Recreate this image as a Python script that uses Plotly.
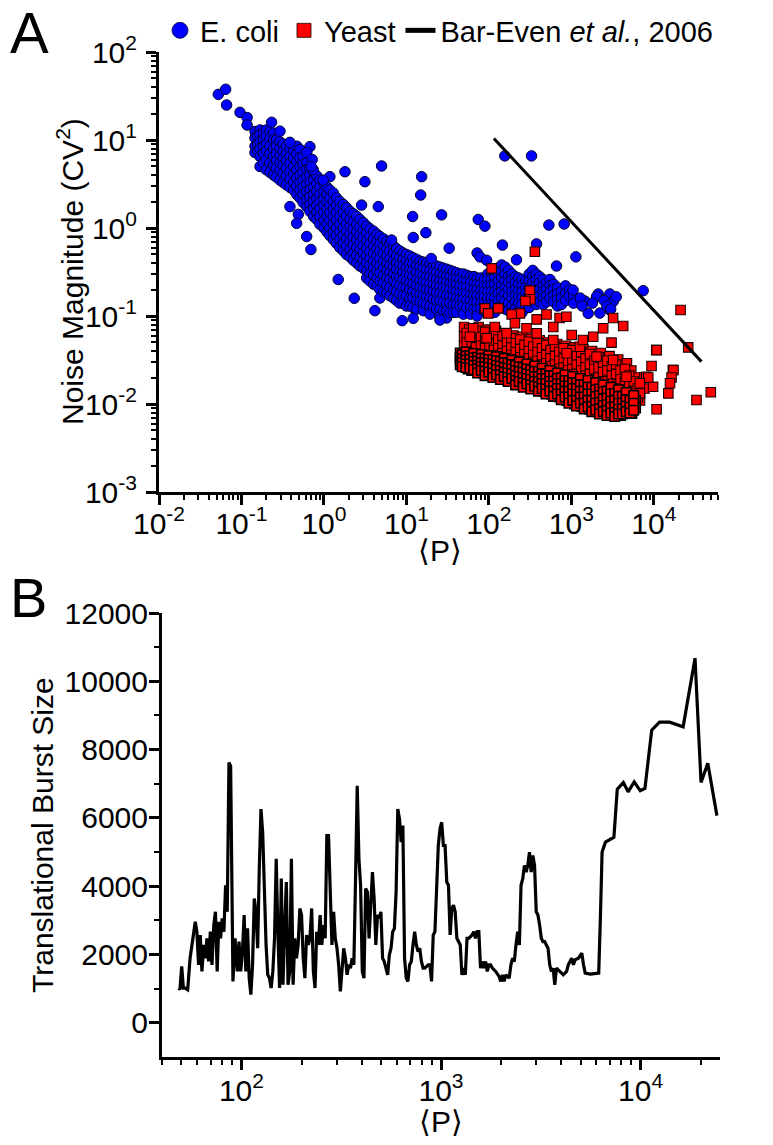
import math
import plotly.graph_objects as go

# ---------------- Panel A data ----------------
ecoli_outlier_x = [0.0524, 0.0643, 0.066, 0.096, 0.117, 0.117, 0.232, 0.293, 0.387,
                   1.80, 3.14, 5.0, 2.86, 4.56, 0.387, 0.489, 0.467, 0.617, 0.695,
                   1.49, 2.33, 4.15, 8.9, 15.3, 14.9, 11.9, 26.7, 12.1, 17.2, 74.3,
                   89.5, 156, 329, 534, 818, 146, 378, 33, 72, 78, 94, 216, 661, 1135,
                   7430, 1458, 2115, 2930, 3210, 1600, 2215, 2930, 1050, 2020, 6.6,
                   20, 0.676, 0.62, 0.72, 0.74, 0.70, 1.18, 0.98, 12.1, 25.5,
                   1280, 1350, 1800, 2500, 2700, 3500, 3000]
ecoli_outlier_y = [33, 37.7, 25, 20.6, 18, 14.8, 15.9, 12.6, 9.4,
                   4.36, 3.36, 5.07, 1.82, 1.75, 1.75, 1.43, 1.13, 0.80, 0.57,
                   0.26, 0.159, 0.115, 0.0885, 3.83, 2.37, 1.35, 1.41, 0.78, 0.885, 1.25,
                   1.05, 6.6, 6.6, 1.08, 1.11, 0.64, 0.66, 0.59, 0.52, 0.47, 0.43, 0.435, 0.37, 0.47,
                   0.194, 0.148, 0.178, 0.178, 0.146, 0.107, 0.108, 0.117, 0.197, 0.166, 0.73,
                   0.45, 8.4, 7.2, 6.0, 4.6, 5.0, 3.83, 3.5, 0.094, 0.09,
                   0.16, 0.13, 0.14, 0.15, 0.13, 0.165, 0.12]

ecoli_band_cols = [
    (0.146, [12.5, 10.5, 8.5, 7.2]),
    (0.157, [11, 9, 7.5]),
    (0.168, [13, 11.5, 9.5, 8, 6.5, 5]),
    (0.185, [12, 10, 8.5, 7, 5.5]),
    (0.20, [13, 11, 9, 7.5, 6, 4.6]),
    (0.221, [12.5, 10.5, 8.5, 7, 5.5, 4.3]),
    (0.245, [12, 10, 8, 6.5, 5.2, 4.0]),
    (0.265, [10, 8.5, 7, 5.8, 4.8, 3.8]),
    (0.293, [9.5, 8, 6.6, 5.5, 4.5, 3.5]),
    (0.32, [9, 7.5, 6.2, 5.2, 4.2, 3.3]),
    (0.35, [8.5, 7, 5.8, 4.8, 3.9, 3.1]),
    (0.387, [8, 6.5, 5.4, 4.4, 3.6, 2.9]),
    (0.43, [7.5, 6.2, 5, 4.1, 3.3, 2.7]),
    (0.47, [8.5, 7, 5.6, 4.5, 3.7, 3.0, 2.4]),
    (0.512, [7.8, 6.3, 5.0, 4.0, 3.3, 2.7, 2.2]),
    (0.56, [6.5, 5.3, 4.3, 3.5, 2.9, 2.4, 1.95]),
    (0.62, [5.5, 4.6, 3.8, 3.1, 2.6, 2.1, 1.75]),
    (0.676, [4.8, 4.0, 3.3, 2.7, 2.25, 1.85, 1.55]),
    (0.75, [4.3, 3.5, 2.9, 2.4, 2.0, 1.65, 1.35]),
    (0.82, [3.9, 3.2, 2.6, 2.15, 1.8, 1.5, 1.25]),
    (0.895, [3.5, 2.9, 2.4, 2.0, 1.65, 1.35, 1.1]),
    (1.0, [3.2, 2.6, 2.15, 1.8, 1.5, 1.22, 1.0]),
    (1.09, [2.9, 2.4, 2.0, 1.65, 1.35, 1.1, 0.9]),
    (1.18, [2.7, 2.2, 1.8, 1.5, 1.22, 1.0, 0.82]),
    (1.3, [2.5, 2.0, 1.65, 1.35, 1.1, 0.9, 0.74]),
    (1.42, [2.2, 1.8, 1.5, 1.22, 1.0, 0.82, 0.67]),
    (1.56, [2.0, 1.65, 1.35, 1.1, 0.9, 0.74, 0.6]),
    (1.72, [1.85, 1.5, 1.22, 1.0, 0.82, 0.67, 0.55]),
    (1.88, [1.7, 1.38, 1.12, 0.92, 0.75, 0.62, 0.5]),
    (2.07, [1.55, 1.27, 1.04, 0.85, 0.7, 0.57, 0.47]),
    (2.27, [1.45, 1.18, 0.96, 0.78, 0.64, 0.52, 0.43]),
    (2.5, [1.35, 1.1, 0.9, 0.73, 0.6, 0.49, 0.4]),
    (2.73, [1.25, 1.02, 0.83, 0.68, 0.56, 0.46, 0.37]),
    (3.0, [1.15, 0.94, 0.77, 0.63, 0.52, 0.43, 0.35]),
    (3.3, [1.05, 0.87, 0.71, 0.58, 0.48, 0.4, 0.32, 0.27]),
    (3.61, [0.98, 0.8, 0.66, 0.54, 0.45, 0.37, 0.3, 0.25]),
    (4.0, [0.92, 0.75, 0.62, 0.51, 0.42, 0.35, 0.29, 0.23]),
    (4.4, [0.85, 0.7, 0.58, 0.48, 0.4, 0.33, 0.27, 0.22]),
    (4.77, [0.8, 0.66, 0.55, 0.45, 0.37, 0.31, 0.25, 0.2, 0.16]),
    (5.3, [0.75, 0.62, 0.51, 0.42, 0.35, 0.29, 0.24, 0.19]),
    (5.8, [0.7, 0.58, 0.48, 0.4, 0.33, 0.27, 0.22, 0.18]),
    (6.3, [0.66, 0.55, 0.45, 0.37, 0.31, 0.26, 0.21, 0.17]),
    (7.0, [0.62, 0.52, 0.43, 0.36, 0.3, 0.25, 0.2, 0.16]),
    (7.6, [0.58, 0.48, 0.4, 0.34, 0.28, 0.23, 0.19, 0.15]),
    (8.3, [0.55, 0.46, 0.38, 0.32, 0.27, 0.22, 0.18, 0.14]),
    (9.1, [0.52, 0.44, 0.37, 0.31, 0.26, 0.21, 0.17, 0.14]),
    (10, [0.5, 0.42, 0.35, 0.3, 0.25, 0.21, 0.17, 0.13]),
    (11, [0.48, 0.4, 0.34, 0.29, 0.24, 0.2, 0.16, 0.13]),
    (12, [0.46, 0.39, 0.33, 0.28, 0.23, 0.19, 0.16, 0.125]),
    (13.3, [0.44, 0.37, 0.31, 0.26, 0.22, 0.18, 0.15, 0.12]),
    (14.6, [0.42, 0.36, 0.3, 0.25, 0.21, 0.175, 0.145]),
    (16, [0.41, 0.35, 0.29, 0.245, 0.205, 0.17, 0.14, 0.115]),
    (17.6, [0.4, 0.34, 0.28, 0.24, 0.2, 0.165, 0.135]),
    (19.3, [0.39, 0.33, 0.275, 0.23, 0.195, 0.16, 0.13, 0.105]),
    (21.2, [0.38, 0.32, 0.27, 0.225, 0.19, 0.155, 0.125]),
    (23.2, [0.37, 0.31, 0.26, 0.22, 0.185, 0.15, 0.12]),
    (25.5, [0.36, 0.3, 0.255, 0.215, 0.18, 0.15, 0.12, 0.098]),
    (28, [0.35, 0.29, 0.25, 0.21, 0.175, 0.145, 0.115]),
    (30.7, [0.34, 0.285, 0.24, 0.205, 0.17, 0.14, 0.115, 0.095]),
    (33.7, [0.33, 0.28, 0.235, 0.2, 0.165, 0.14, 0.11]),
    (37, [0.32, 0.27, 0.23, 0.195, 0.165, 0.135, 0.11]),
    (40.6, [0.31, 0.265, 0.225, 0.19, 0.16, 0.135, 0.11]),
    (44.5, [0.3, 0.26, 0.22, 0.185, 0.155, 0.13]),
    (49, [0.3, 0.25, 0.215, 0.18, 0.155, 0.13, 0.105]),
    (54, [0.29, 0.245, 0.21, 0.18, 0.15, 0.125]),
    (60, [0.28, 0.24, 0.205, 0.175, 0.15, 0.125, 0.105]),
    (66, [0.28, 0.235, 0.2, 0.17, 0.145, 0.12]),
    (72, [0.27, 0.23, 0.2, 0.17, 0.145, 0.12, 0.1]),
    (80, [0.27, 0.23, 0.195, 0.165, 0.14, 0.12]),
    (88, [0.26, 0.22, 0.19, 0.165, 0.14, 0.115]),
    (97, [0.3, 0.26, 0.22, 0.19, 0.16, 0.135, 0.115]),
    (107, [0.26, 0.22, 0.19, 0.16, 0.135, 0.11]),
    (118, [0.32, 0.27, 0.23, 0.19, 0.16, 0.135, 0.11]),
    (130, [0.35, 0.3, 0.25, 0.21, 0.18, 0.15, 0.125]),
    (143, [0.38, 0.32, 0.27, 0.22, 0.19, 0.16, 0.13]),
    (157, [0.36, 0.3, 0.25, 0.21, 0.18, 0.15, 0.12]),
    (173, [0.33, 0.28, 0.24, 0.2, 0.17, 0.14, 0.115]),
    (190, [0.3, 0.26, 0.22, 0.19, 0.16, 0.13, 0.11]),
    (210, [0.28, 0.24, 0.2, 0.17, 0.145, 0.12, 0.1]),
    (230, [0.27, 0.23, 0.195, 0.165, 0.14, 0.115]),
    (253, [0.26, 0.22, 0.19, 0.16, 0.135, 0.11]),
    (280, [0.25, 0.21, 0.18, 0.155, 0.13]),
    (308, [0.3, 0.25, 0.21, 0.18, 0.15, 0.125]),
    (340, [0.33, 0.28, 0.24, 0.2, 0.17, 0.145]),
    (375, [0.3, 0.26, 0.22, 0.19, 0.16, 0.135]),
    (413, [0.28, 0.24, 0.2, 0.17, 0.145]),
    (455, [0.26, 0.22, 0.19, 0.16, 0.135]),
    (500, [0.24, 0.2, 0.17, 0.145]),
    (550, [0.26, 0.22, 0.19, 0.16]),
    (610, [0.23, 0.2, 0.17, 0.145]),
    (680, [0.21, 0.18, 0.155, 0.13]),
    (760, [0.19, 0.16, 0.135]),
    (850, [0.22, 0.18, 0.15]),
    (950, [0.2, 0.17]),
    (1060, [0.17, 0.14]),
]

yeast_dense_cols = [
    (45, [0.038, 0.034, 0.031, 0.028]),
    (50, [0.037, 0.033, 0.030, 0.027]),
    (56, [0.038, 0.034, 0.030, 0.027, 0.025]),
    (62, [0.037, 0.033, 0.030, 0.027, 0.024]),
    (69, [0.036, 0.032, 0.029, 0.026, 0.024]),
    (77, [0.036, 0.032, 0.029, 0.026, 0.023]),
    (85, [0.035, 0.031, 0.028, 0.025, 0.0225]),
    (95, [0.034, 0.031, 0.028, 0.025, 0.022]),
    (106, [0.034, 0.030, 0.027, 0.024, 0.0215]),
    (118, [0.033, 0.030, 0.026, 0.023, 0.021]),
    (131, [0.032, 0.029, 0.026, 0.023, 0.020]),
    (146, [0.032, 0.028, 0.025, 0.022, 0.0195]),
    (162, [0.031, 0.027, 0.024, 0.021, 0.019]),
    (180, [0.030, 0.027, 0.024, 0.021, 0.0185]),
    (200, [0.030, 0.026, 0.023, 0.020, 0.018]),
    (222, [0.029, 0.025, 0.022, 0.0195, 0.0175]),
    (247, [0.028, 0.025, 0.022, 0.019, 0.017]),
    (275, [0.027, 0.024, 0.021, 0.0185, 0.0165]),
    (305, [0.027, 0.023, 0.020, 0.018, 0.016]),
    (340, [0.026, 0.023, 0.020, 0.0175, 0.0155]),
    (378, [0.025, 0.022, 0.019, 0.017, 0.015]),
    (420, [0.025, 0.021, 0.0185, 0.0165, 0.0145]),
    (467, [0.024, 0.021, 0.018, 0.016, 0.014]),
    (520, [0.023, 0.020, 0.0175, 0.0155, 0.0135]),
    (578, [0.023, 0.0195, 0.017, 0.015, 0.013]),
    (643, [0.022, 0.019, 0.0165, 0.0145, 0.0125]),
    (715, [0.021, 0.018, 0.016, 0.014, 0.012]),
    (795, [0.021, 0.018, 0.0155, 0.0135, 0.0115]),
    (885, [0.020, 0.017, 0.015, 0.013, 0.011]),
    (985, [0.020, 0.017, 0.0145, 0.0125, 0.0105]),
    (1095, [0.019, 0.016, 0.014, 0.012, 0.010]),
    (1220, [0.019, 0.016, 0.0135, 0.0115, 0.0098]),
    (1355, [0.018, 0.0155, 0.013, 0.011, 0.0094]),
    (1510, [0.018, 0.015, 0.0125, 0.0105, 0.009]),
    (1680, [0.017, 0.0145, 0.012, 0.0102, 0.0087]),
    (1870, [0.017, 0.014, 0.0118, 0.0099, 0.0084]),
    (2080, [0.016, 0.0135, 0.0115, 0.0096, 0.0082]),
    (2310, [0.016, 0.013, 0.011, 0.0093, 0.008]),
    (2570, [0.015, 0.0128, 0.0107, 0.009, 0.0078]),
    (2860, [0.015, 0.0125, 0.0104, 0.0088]),
    (3180, [0.0145, 0.012, 0.010, 0.0086, 0.0076]),
    (3540, [0.014, 0.0118, 0.0098, 0.0084, 0.0075]),
    (3940, [0.0135, 0.0115, 0.0096, 0.0082, 0.0074]),
    (4380, [0.013, 0.011, 0.0094, 0.008]),
    (4870, [0.0125, 0.0105, 0.009, 0.0078]),
    (5420, [0.012, 0.0095, 0.0078]),
    (6000, [0.011, 0.009]),
]

yeast_dense_cols_b = [
    (47.5, [0.036, 0.0325, 0.0295, 0.0265]),
    (53, [0.039, 0.035, 0.0315, 0.0285, 0.026]),
    (59, [0.0355, 0.032, 0.0285, 0.0255]),
    (65.5, [0.0375, 0.0335, 0.0305, 0.0275, 0.0245]),
    (73, [0.034, 0.0305, 0.0275, 0.025, 0.0225]),
    (81, [0.0365, 0.033, 0.0295, 0.0265, 0.024]),
    (90, [0.033, 0.0295, 0.0265, 0.0235, 0.021]),
    (100, [0.0355, 0.032, 0.029, 0.026, 0.023]),
    (112, [0.032, 0.0285, 0.0255, 0.0225, 0.02]),
    (124, [0.0345, 0.031, 0.0275, 0.0245, 0.0215]),
    (138, [0.0305, 0.027, 0.024, 0.0215, 0.019]),
    (154, [0.033, 0.0295, 0.026, 0.023, 0.0205]),
    (171, [0.029, 0.0255, 0.0225, 0.02, 0.018]),
    (190, [0.0315, 0.028, 0.025, 0.022, 0.0195]),
    (211, [0.0275, 0.024, 0.021, 0.0185, 0.0165]),
    (234, [0.03, 0.0265, 0.0235, 0.0205, 0.018]),
    (261, [0.026, 0.023, 0.02, 0.0175, 0.0155]),
    (290, [0.0285, 0.025, 0.022, 0.0195, 0.017]),
    (322, [0.0245, 0.0215, 0.019, 0.0165, 0.0148]),
    (359, [0.027, 0.0235, 0.0205, 0.018, 0.016]),
    (399, [0.0235, 0.0205, 0.018, 0.0157, 0.014]),
    (443, [0.0255, 0.022, 0.0195, 0.017, 0.015]),
    (493, [0.022, 0.0195, 0.017, 0.0148, 0.013]),
    (549, [0.024, 0.021, 0.018, 0.016, 0.014]),
    (610, [0.021, 0.0182, 0.016, 0.014, 0.0122]),
    (679, [0.0225, 0.0195, 0.017, 0.015, 0.013]),
    (755, [0.0198, 0.017, 0.015, 0.013, 0.0112]),
    (840, [0.0215, 0.0185, 0.016, 0.014, 0.012]),
    (935, [0.0185, 0.016, 0.014, 0.012, 0.0102]),
    (1040, [0.0205, 0.0175, 0.015, 0.013, 0.011]),
    (1157, [0.0175, 0.015, 0.0128, 0.011, 0.0095]),
    (1287, [0.0195, 0.0165, 0.014, 0.012, 0.0102]),
    (1432, [0.0165, 0.014, 0.012, 0.0102, 0.0088]),
    (1594, [0.0185, 0.0155, 0.013, 0.011, 0.0093]),
    (1773, [0.0155, 0.013, 0.011, 0.0094, 0.0082]),
    (1972, [0.0175, 0.0145, 0.0122, 0.0102, 0.0086]),
    (2194, [0.0148, 0.0124, 0.0104, 0.0088, 0.0077]),
    (2440, [0.0165, 0.0138, 0.0115, 0.0096, 0.0082]),
    (2715, [0.014, 0.0117, 0.0098, 0.0084, 0.0074]),
    (3020, [0.0155, 0.013, 0.0108, 0.0092, 0.0079]),
    (3360, [0.0132, 0.011, 0.0093, 0.008, 0.0072]),
    (3740, [0.0145, 0.0122, 0.0102, 0.0087, 0.0077]),
    (4160, [0.0122, 0.0102, 0.0088, 0.0077]),
    (4620, [0.0135, 0.0112, 0.0095, 0.0082]),
    (5140, [0.011, 0.0092, 0.0079]),
    (5700, [0.0125, 0.0102, 0.0085]),
]

yeast_upper_cols = [
    (50, [0.075, 0.058, 0.046]),
    (58, [0.07, 0.052, 0.042]),
    (66, [0.064, 0.048]),
    (75, [0.075, 0.055, 0.043]),
    (85, [0.062, 0.047, 0.04]),
    (96, [0.07, 0.052, 0.041]),
    (108, [0.06, 0.046, 0.038]),
    (122, [0.068, 0.05, 0.04]),
    (138, [0.058, 0.045, 0.037]),
    (156, [0.064, 0.05, 0.039, 0.034]),
    (176, [0.055, 0.043, 0.035]),
    (199, [0.06, 0.047, 0.038, 0.032]),
    (225, [0.052, 0.041, 0.033]),
    (254, [0.058, 0.045, 0.036, 0.031]),
    (287, [0.05, 0.04, 0.032]),
    (324, [0.055, 0.043, 0.035, 0.029]),
    (366, [0.048, 0.038, 0.031]),
    (413, [0.053, 0.042, 0.034, 0.028]),
    (467, [0.046, 0.037, 0.03, 0.026]),
    (527, [0.05, 0.04, 0.033, 0.027]),
    (595, [0.044, 0.035, 0.029, 0.025]),
    (672, [0.048, 0.038, 0.031, 0.026]),
    (760, [0.042, 0.034, 0.028, 0.024]),
    (858, [0.046, 0.036, 0.029, 0.024]),
    (970, [0.04, 0.032, 0.027, 0.023]),
    (1095, [0.044, 0.035, 0.028, 0.023]),
    (1237, [0.038, 0.031, 0.025, 0.021]),
    (1397, [0.042, 0.033, 0.027, 0.022]),
    (1578, [0.036, 0.029, 0.024, 0.02]),
    (1782, [0.04, 0.031, 0.025, 0.02]),
    (2013, [0.034, 0.027, 0.022, 0.018]),
    (2273, [0.038, 0.029, 0.023, 0.019]),
    (2568, [0.032, 0.025, 0.02, 0.017]),
    (2900, [0.035, 0.027, 0.021, 0.017]),
    (3275, [0.03, 0.023, 0.019, 0.016]),
    (3700, [0.032, 0.025, 0.019, 0.015]),
    (4180, [0.027, 0.021, 0.017, 0.014]),
    (4720, [0.029, 0.022, 0.016, 0.013]),
    (5330, [0.024, 0.018, 0.014]),
    (6020, [0.02, 0.015, 0.012]),
    (6800, [0.017, 0.0135, 0.011]),
    (7700, [0.02, 0.015]),
]

yeast_upper_cols_b = [
    (54, [0.064, 0.05]),
    (62, [0.058, 0.045]),
    (70, [0.068, 0.051, 0.044]),
    (80, [0.058, 0.046]),
    (90, [0.066, 0.05, 0.043]),
    (102, [0.055, 0.044]),
    (115, [0.063, 0.048, 0.041]),
    (130, [0.054, 0.043, 0.036]),
    (147, [0.06, 0.046, 0.038]),
    (166, [0.05, 0.04, 0.034]),
    (187, [0.056, 0.044, 0.036]),
    (212, [0.049, 0.039, 0.032]),
    (240, [0.054, 0.042, 0.034]),
    (270, [0.047, 0.037, 0.031]),
    (305, [0.051, 0.04, 0.033]),
    (345, [0.045, 0.036, 0.03]),
    (390, [0.049, 0.039, 0.031]),
    (440, [0.043, 0.034, 0.028]),
    (497, [0.047, 0.036, 0.029]),
    (560, [0.041, 0.033, 0.027]),
    (633, [0.045, 0.035, 0.028]),
    (715, [0.039, 0.031, 0.025]),
    (808, [0.043, 0.033, 0.026]),
    (912, [0.037, 0.03, 0.024]),
    (1030, [0.041, 0.032, 0.025]),
    (1165, [0.035, 0.028, 0.022]),
    (1316, [0.039, 0.03, 0.024]),
    (1487, [0.033, 0.026, 0.021]),
    (1680, [0.037, 0.028, 0.022]),
    (1898, [0.031, 0.025, 0.019]),
    (2145, [0.034, 0.026, 0.02]),
    (2423, [0.029, 0.023, 0.018]),
    (2738, [0.031, 0.024, 0.018]),
    (3093, [0.027, 0.021, 0.017]),
    (3495, [0.028, 0.022, 0.016]),
    (3950, [0.024, 0.019, 0.015]),
    (4460, [0.025, 0.018, 0.014]),
    (5040, [0.021, 0.016, 0.013]),
    (5690, [0.018, 0.014, 0.011]),
    (6400, [0.015, 0.012]),
]

yeast_outlier_x = [361, 108, 314, 318, 277, 89.5, 130, 98, 238, 189, 500, 380, 720, 870,
                   3210, 4250, 64.6, 58.9, 118, 207, 286, 603, 1010, 1840, 2430, 3070,
                   1270, 877, 2020, 10700, 17000, 21100, 94, 164, 380, 603, 1380, 3210,
                   4650, 8100, 9800, 6780, 26100, 32900, 49100, 10800, 9380, 17300, 15000,
                   10800, 16400, 15700, 8560, 6760]
yeast_outlier_y = [0.538, 0.348, 0.194, 0.155, 0.148, 0.122, 0.122, 0.107, 0.107, 0.104, 0.104,
                   0.0916, 0.095, 0.098, 0.095, 0.0769, 0.0725, 0.058, 0.075, 0.0826, 0.0725,
                   0.075, 0.0608, 0.058, 0.0725, 0.0498, 0.0448, 0.0377, 0.0345, 0.0411, 0.0243,
                   0.117, 0.056, 0.0636, 0.0636, 0.0534, 0.0534, 0.0316, 0.0204, 0.0204, 0.0157,
                   0.0132, 0.044, 0.0111, 0.0136, 0.041, 0.027, 0.0243, 0.0132, 0.0087, 0.02,
                   0.0172, 0.02, 0.0172]

bareven_x = [115, 37800]
bareven_y = [10.4, 0.0303]

# ---------------- Panel B data ----------------
burst_x = [48.6, 49.2, 50.2, 51.2, 52.2, 53.8, 55.3, 57.5, 58.7, 59.8, 61.0, 62.2, 63.4, 64.7,
           65.9, 67.2, 68.5, 69.9, 71.2, 72.7, 74.1, 75.6, 77.1, 78.6, 80.1, 81.7, 83.3, 84.9,
           86.6, 88.3, 89.3, 90.7, 92.9, 95.4, 97.3, 99.2, 101.2, 103.2, 105.2, 107.3, 109.4,
           111.5, 113.7, 116.0, 118.2, 120.6, 122.9, 125.3, 127.8, 130.3, 132.9, 135.5, 138.2,
           140.9, 143.7, 146.5, 149.4, 152.3, 155.3, 158.4, 161.5, 164.7, 167.9, 171.2, 174.6,
           178.0, 181.5, 185.1, 188.7, 192.4, 196.2, 200.1, 204.0, 208.0, 212.1, 216.3, 220.5,
           224.9, 229.3, 233.8, 238.4, 243.1, 247.9, 252.7, 257.7, 262.8, 267.9, 273.2, 278.6,
           284.1, 289.7, 295.3, 301.2, 307.1, 313.1, 319.3, 325.5, 332.0, 338.5, 345.1, 351.9,
           358.9, 365.9, 373.1, 380.4, 387.9, 395.5, 403.3, 411.2, 419.3, 427.6, 436.0, 444.6,
           453.4, 462.3, 471.4, 480.7, 490.2, 499.8, 509.7, 519.7, 530.0, 540.4, 551.1, 561.9,
           572.9, 584.2, 595.7, 607.4, 619.4, 631.6, 644.1, 656.8, 669.6, 682.8, 696.2, 710.0,
           723.9, 738.0, 752.6, 767.4, 782.4, 797.9, 813.5, 829.6, 862.5, 879.5, 896.8, 914.4,
           932.3, 950.6, 969.4, 988.5, 1008, 1028, 1048, 1069, 1090, 1111, 1133, 1155, 1178,
           1201, 1225, 1249, 1273, 1298, 1324, 1350, 1376, 1431, 1459, 1488, 1517, 1547, 1578,
           1608, 1640, 1673, 1705, 1739, 1773, 1808, 1879, 1954, 1993, 2032, 2072, 2113, 2197,
           2240, 2284, 2329, 2375, 2422, 2470, 2518, 2568, 2618, 2670, 2722, 2775, 2830, 2886,
           2943, 3001, 3059, 3120, 3181, 3243, 3307, 3372, 3438, 3505, 3574, 3645, 3716, 3789,
           3940, 4098, 4260, 4344, 4430, 4516, 4605, 4695, 4883, 5078, 5176, 5278, 5597, 6170,
           6289, 6414, 6668, 7351, 7643, 8199, 8660, 9290, 9965, 10515, 11370, 12440, 13990,
           16340, 18740, 20090, 21710, 24130]
burst_y = [1019, 971, 1650, 1019, 1019, 971, 1893, 2669, 2960, 2669, 1699, 2572, 1505, 2281,
           1893, 2475, 1796, 2669, 1699, 2864, 3252, 1505, 2960, 2475, 3058, 2669, 4028, 3252,
           7620, 7523, 3834, 1213, 2475, 1505, 2378, 1505, 2087, 3155, 1505, 2766, 1310,
           825, 1699, 3640, 3252, 2184, 4514, 6261, 5581, 3834, 2281, 1407, 1310,
           1019, 1505, 2475, 4805, 2669, 1019, 4223, 1116, 2766, 4125, 1116, 1505,
           4805, 1116, 2475, 1893, 2281, 3349, 3155, 1893, 1310, 2572, 2281, 2475,
           3349, 1505, 1019, 2669, 2281, 3155, 2281, 2864, 2475, 5484, 5484, 3834,
           2281, 3252, 2475, 2184, 1699, 922, 1505, 2184, 1893, 1407, 1699, 1602,
           1893, 1699, 4223, 6940, 4805, 4028, 1505, 1310, 3931, 3834, 2475, 3543,
           4417, 3640, 2281, 3155, 3058, 3252, 1893, 1796, 1602, 1407, 1990, 2184,
           2669, 2766, 3834, 6261, 5970, 5290, 5776, 1893, 1310, 1213, 1699, 1796,
           2281, 2669, 2281, 2087, 2184, 1796, 1602, 1602, 1699, 1699, 1213, 2572,
           2669, 3834, 5193, 5679, 5873, 5193, 5193, 4125, 4028, 2572, 3349, 3446, 3252,
           2475, 2378, 2281, 1407, 1602, 1407, 2475, 2475, 2572, 2669, 2475, 2669, 2669, 1602,
           1796, 1602, 1796, 1505, 1699, 1699, 1602, 1505, 1359, 1213, 1407, 1213, 1407, 1310,
           1699, 1893, 1796, 2281, 2669, 2281, 4028, 4223, 4611, 4417, 4611, 4999, 4417, 4902,
           4611, 3252, 3155, 2864, 2475, 2378, 2378, 2281, 2184, 1699, 1505, 1602, 1116, 1602,
           1505, 1407, 1505, 1699, 1796, 1893, 1699, 1844, 1893, 2038, 1699, 1456, 1427, 1456,
           3058, 4999, 5290, 5436, 6843, 7037, 6765, 7056, 6794, 6862, 8570, 8803, 8803,
           8668, 10677, 7037, 7600, 6067]

# tick labels
a_x_tickvals = [0.01, 0.1, 1, 10, 100, 1000, 10000]
a_x_ticktext = ["10<sup>-2</sup>", "10<sup>-1</sup>", "10<sup>0</sup>", "10<sup>1</sup>",
                "10<sup>2</sup>", "10<sup>3</sup>", "10<sup>4</sup>"]
a_y_tickvals = [0.001, 0.01, 0.1, 1, 10, 100]
a_y_ticktext = ["10<sup>-3</sup>", "10<sup>-2</sup>", "10<sup>-1</sup>", "10<sup>0</sup>",
                "10<sup>1</sup>", "10<sup>2</sup>"]
b_x_tickvals = [100, 1000, 10000]
b_x_ticktext = ["10<sup>2</sup>", "10<sup>3</sup>", "10<sup>4</sup>"]
b_y_tickvals = [0, 2000, 4000, 6000, 8000, 10000, 12000]
b_y_ticktext = ["0", "2000", "4000", "6000", "8000", "10000", "12000"]


def flatten(*col_lists):
    xs, ys = [], []
    for cols in col_lists:
        for x, yl in cols:
            for y in yl:
                xs.append(x)
                ys.append(y)
    return xs, ys


bx, by = flatten(ecoli_band_cols)
ecoli_x = bx + ecoli_outlier_x
ecoli_y = by + ecoli_outlier_y
ux, uy = flatten(yeast_upper_cols, yeast_upper_cols_b)
yeast_sc_x = ux + yeast_outlier_x
yeast_sc_y = uy + yeast_outlier_y
yeast_dn_x, yeast_dn_y = flatten(yeast_dense_cols, yeast_dense_cols_b)

FONT = "Liberation Sans, Arial, sans-serif"
W, H = 773, 1145

fig = go.Figure()
fig.add_trace(go.Scatter(x=ecoli_x, y=ecoli_y, mode="markers", showlegend=False,
                         marker=dict(symbol="circle", size=10.5, color="#0000ff",
                                     line=dict(color="#000030", width=1)),
                         xaxis="x", yaxis="y"))
fig.add_trace(go.Scatter(x=yeast_sc_x, y=yeast_sc_y, mode="markers", showlegend=False,
                         marker=dict(symbol="square", size=9.5, color="#ff0000",
                                     line=dict(color="#1a0000", width=1.1)),
                         xaxis="x", yaxis="y"))
fig.add_trace(go.Scatter(x=yeast_dn_x, y=yeast_dn_y, mode="markers", showlegend=False,
                         marker=dict(symbol="square", size=9.5, color="#ff0000",
                                     line=dict(color="#000000", width=1.6)),
                         xaxis="x", yaxis="y"))
fig.add_trace(go.Scatter(x=bareven_x, y=bareven_y, mode="lines", showlegend=False,
                         line=dict(color="black", width=3), xaxis="x", yaxis="y"))
# legend entries
fig.add_trace(go.Scatter(x=[None], y=[None], mode="markers", name="E. coli",
                         marker=dict(symbol="circle", size=17, color="#0000ff",
                                     line=dict(color="#000030", width=0.8)),
                         xaxis="x", yaxis="y"))
fig.add_trace(go.Scatter(x=[None], y=[None], mode="markers", name="Yeast",
                         marker=dict(symbol="square", size=14, color="#ff0000",
                                     line=dict(color="#1a0000", width=0.8)),
                         xaxis="x", yaxis="y"))
fig.add_trace(go.Scatter(x=[None], y=[None], mode="lines", name="Bar-Even <i>et al.</i>, 2006",
                         line=dict(color="black", width=5), xaxis="x", yaxis="y"))

fig.add_trace(go.Scatter(x=burst_x, y=burst_y, mode="lines", showlegend=False,
                         line=dict(color="black", width=3.2), xaxis="x2", yaxis="y2"))

axis_common = dict(showline=True, linewidth=3, linecolor="black", ticks="outside",
                   ticklen=10, tickwidth=2.5, tickcolor="black", showgrid=False,
                   zeroline=False, mirror=False, automargin=False,
                   tickfont=dict(family=FONT, size=30, color="black"))

a_x_minor = [m * 10 ** e for e in range(-2, 5) for m in range(2, 10) if m * 10 ** e <= 60000]
a_y_minor = [m * 10.0 ** e for e in range(-3, 2) for m in range(2, 10)]
b_x_minor = [40, 50, 60, 70, 80, 90, 200, 300, 400, 500, 600, 700, 800, 900,
             2000, 3000, 4000, 5000, 6000, 7000, 8000, 9000, 20000]
b_y_minor = [1000, 3000, 5000, 7000, 9000, 11000]

minor_style = dict(ticks="outside", ticklen=5, tickwidth=2, tickcolor="black", showgrid=False)

fig.update_layout(
    width=W, height=H, margin=dict(l=0, r=0, t=0, b=0, pad=0, autoexpand=False),
    paper_bgcolor="white", plot_bgcolor="white",
    font=dict(family=FONT, color="black"),
    xaxis=dict(type="log", range=[-2, math.log10(60000)], domain=[159 / W, 718 / W],
               anchor="y", tickmode="array", tickvals=a_x_tickvals, ticktext=a_x_ticktext,
               ticklabelstandoff=-7,
               minor=dict(tickmode="array", tickvals=a_x_minor, **minor_style), **axis_common),
    yaxis=dict(type="log", range=[-3, 2], domain=[1 - 492 / H, 1 - 52 / H],
               anchor="x", tickmode="array", tickvals=a_y_tickvals, ticktext=a_y_ticktext,
               ticklabelstandoff=3,
               minor=dict(tickmode="array", tickvals=a_y_minor, **minor_style), **axis_common),
    xaxis2=dict(type="log", range=[math.log10(40), math.log10(25000)], domain=[162 / W, 720 / W],
                anchor="y2", tickmode="array", tickvals=b_x_tickvals, ticktext=b_x_ticktext,
                ticklabelstandoff=-5,
                minor=dict(tickmode="array", tickvals=b_x_minor, **minor_style), **axis_common),
    yaxis2=dict(range=[-1000, 12000], domain=[1 - 1057 / H, 1 - 613 / H],
                anchor="x2", tickmode="array", tickvals=b_y_tickvals, ticktext=b_y_ticktext,
                ticklabelstandoff=-5,
                minor=dict(tickmode="array", tickvals=b_y_minor, **minor_style), **axis_common),
    legend=dict(orientation="h", x=160 / W, y=1 - 5 / H, xanchor="left", yanchor="top",
                font=dict(family=FONT, size=29, color="black"), itemwidth=30,
                bgcolor="rgba(0,0,0,0)", tracegroupgap=0),
    annotations=[
        dict(text="A", x=8 / W, y=1.0, xref="paper", yref="paper", showarrow=False,
             xanchor="left", yanchor="top", yshift=2,
             font=dict(family=FONT, size=58, color="black")),
        dict(text="B", x=8 / W, y=1 - 597 / H, xref="paper", yref="paper", showarrow=False,
             xanchor="left", yanchor="middle", font=dict(family=FONT, size=56, color="black")),
        dict(text="Noise Magnitude (CV<sup>2</sup>)", x=70 / W, y=1 - 272 / H, xref="paper",
             yref="paper", showarrow=False, textangle=-90, xanchor="center", yanchor="middle",
             font=dict(family=FONT, size=30, color="black")),
        dict(text="Translational Burst Size", x=42 / W, y=1 - 835 / H, xref="paper",
             yref="paper", showarrow=False, textangle=-90, xanchor="center", yanchor="middle",
             font=dict(family=FONT, size=30, color="black")),
        dict(text="\u27e8P\u27e9", x=440 / W, y=1 - 550 / H, xref="paper", yref="paper",
             showarrow=False, xanchor="center", yanchor="middle",
             font=dict(family=FONT, size=30, color="black")),
        dict(text="\u27e8P\u27e9", x=441 / W, y=1 - 1121 / H, xref="paper", yref="paper",
             showarrow=False, xanchor="center", yanchor="middle",
             font=dict(family=FONT, size=30, color="black")),
    ],
)

fig.write_html("out.html", config={"displayModeBar": False},
               post_script="document.body.style.margin='0px';")
